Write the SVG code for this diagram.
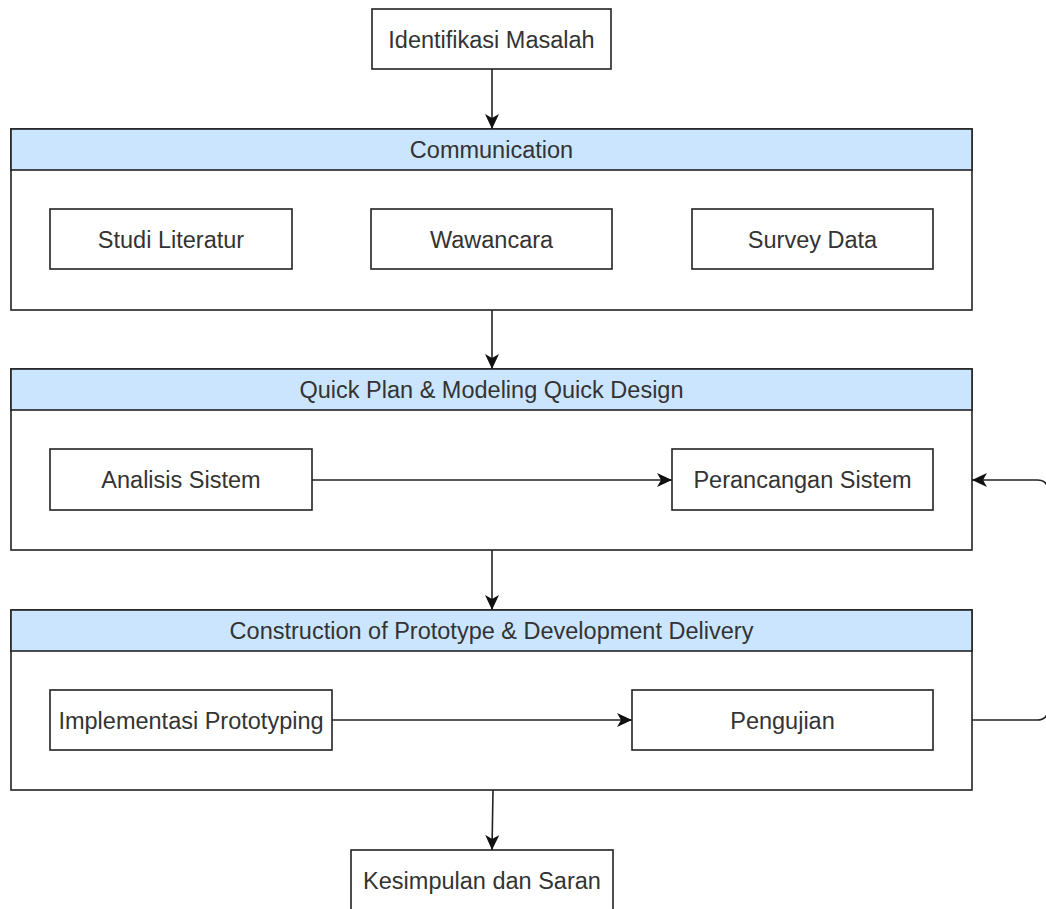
<svg xmlns="http://www.w3.org/2000/svg" width="1046" height="909" viewBox="0 0 1046 909">
<style>
.box{fill:#fff;stroke:#222;stroke-width:1.6}
.hdr{fill:#cce5ff;stroke:#222;stroke-width:1.6}
.t{font-family:"Liberation Sans",Arial,sans-serif;font-size:23.5px;fill:#333;text-anchor:middle}
.c{fill:none;stroke:#222;stroke-width:1.6}
</style>
<defs>
<marker id="ah" markerUnits="userSpaceOnUse" markerWidth="16" markerHeight="14" refX="15" refY="7" orient="auto">
<path d="M0,0 L15,7 L0,14 L4,7 z" fill="#111"/>
</marker>
</defs>
<rect width="1046" height="909" fill="#fff"/>
<g id="identifikasi">
<rect class="box" x="372" y="9" width="239" height="60"/>
<text class="t" x="491.5" y="47.5">Identifikasi Masalah</text>
</g>
<g id="communication">
<rect class="box" x="11" y="129" width="961" height="181"/>
<rect class="hdr" x="11" y="129" width="961" height="41"/>
<text class="t" x="491.5" y="158">Communication</text>
</g>
<g id="studi">
<rect class="box" x="50" y="209" width="242" height="60"/>
<text class="t" x="171" y="247.5">Studi Literatur</text>
</g>
<g id="wawancara">
<rect class="box" x="371" y="209" width="241" height="60"/>
<text class="t" x="491.5" y="247.5">Wawancara</text>
</g>
<g id="survey">
<rect class="box" x="692" y="209" width="241" height="60"/>
<text class="t" x="812.5" y="247.5">Survey Data</text>
</g>
<g id="quickplan">
<rect class="box" x="11" y="369" width="961" height="181"/>
<rect class="hdr" x="11" y="369" width="961" height="41"/>
<text class="t" x="491.5" y="398">Quick Plan &amp; Modeling Quick Design</text>
</g>
<g id="analisis">
<rect class="box" x="50" y="449" width="262" height="61"/>
<text class="t" x="181" y="488">Analisis Sistem</text>
</g>
<g id="perancangan">
<rect class="box" x="672" y="449" width="261" height="61"/>
<text class="t" x="802.5" y="488">Perancangan Sistem</text>
</g>
<g id="construction">
<rect class="box" x="11" y="610" width="961" height="180"/>
<rect class="hdr" x="11" y="610" width="961" height="41"/>
<text class="t" x="491.5" y="639">Construction of Prototype &amp; Development Delivery</text>
</g>
<g id="implementasi">
<rect class="box" x="50" y="690" width="282" height="60"/>
<text class="t" x="191" y="728.5">Implementasi Prototyping</text>
</g>
<g id="pengujian">
<rect class="box" x="632" y="690" width="301" height="60"/>
<text class="t" x="782.5" y="728.5">Pengujian</text>
</g>
<g id="kesimpulan">
<rect class="box" x="351" y="850" width="262" height="62"/>
<text class="t" x="482" y="889">Kesimpulan dan Saran</text>
</g>
<g id="connectors">
<path class="c" d="M492,69 L492,129" marker-end="url(#ah)"/>
<path class="c" d="M492,310 L492,369" marker-end="url(#ah)"/>
<path class="c" d="M312,480 L672,480" marker-end="url(#ah)"/>
<path class="c" d="M492,550 L492,610" marker-end="url(#ah)"/>
<path class="c" d="M332,720 L632,720" marker-end="url(#ah)"/>
<path class="c" d="M493,790 L492,850" marker-end="url(#ah)"/>
<path class="c" d="M972,720 L1037,720 Q1048,720 1048,709 L1048,491 Q1048,480 1037,480 L972,480" marker-end="url(#ah)"/>
</g>
</svg>
